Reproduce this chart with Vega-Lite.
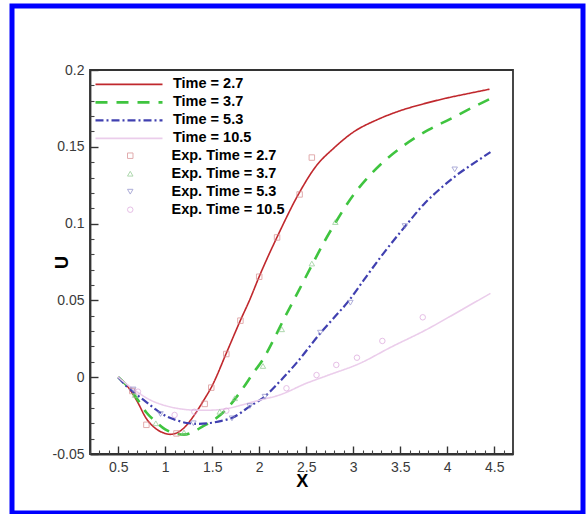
{
  "$schema": "https://vega.github.io/schema/vega-lite/v6.json",
  "autosize": {"type": "none"},
  "width": 571,
  "height": 507,
  "padding": {"left": 12, "top": 6, "right": 3, "bottom": 1},
  "background": "white",
  "title": {
    "text": "DG Method, Linear Elements",
    "font": "Liberation Serif",
    "fontSize": 26,
    "fontWeight": "bold",
    "color": "black",
    "frame": "group",
    "anchor": "middle",
    "baseline": "alphabetic",
    "offset": 2,
    "dx": 7
  },
  "config": {
    "view": {"stroke": "#0000ff", "strokeWidth": 5},
    "font": "Liberation Sans"
  },
  "resolve": {"axis": {"x": "independent", "y": "independent"}},
  "datasets": {
    "lines": [
      {"series": "Time = 2.7", "x": 0.5, "u": 0},
      {"series": "Time = 2.7", "x": 0.6, "u": -0.006},
      {"series": "Time = 2.7", "x": 0.7, "u": -0.0155},
      {"series": "Time = 2.7", "x": 0.8, "u": -0.027},
      {"series": "Time = 2.7", "x": 0.9, "u": -0.0335},
      {"series": "Time = 2.7", "x": 1.0, "u": -0.0366},
      {"series": "Time = 2.7", "x": 1.05, "u": -0.0372},
      {"series": "Time = 2.7", "x": 1.1, "u": -0.0368},
      {"series": "Time = 2.7", "x": 1.2, "u": -0.033},
      {"series": "Time = 2.7", "x": 1.3, "u": -0.0255},
      {"series": "Time = 2.7", "x": 1.4, "u": -0.016},
      {"series": "Time = 2.7", "x": 1.5, "u": -0.0055},
      {"series": "Time = 2.7", "x": 1.65, "u": 0.0156},
      {"series": "Time = 2.7", "x": 1.8, "u": 0.037},
      {"series": "Time = 2.7", "x": 1.9, "u": 0.0505},
      {"series": "Time = 2.7", "x": 2.0, "u": 0.0655},
      {"series": "Time = 2.7", "x": 2.2, "u": 0.0925},
      {"series": "Time = 2.7", "x": 2.43, "u": 0.1205},
      {"series": "Time = 2.7", "x": 2.6, "u": 0.137},
      {"series": "Time = 2.7", "x": 2.8, "u": 0.1495},
      {"series": "Time = 2.7", "x": 3.0, "u": 0.1595},
      {"series": "Time = 2.7", "x": 3.25, "u": 0.1675},
      {"series": "Time = 2.7", "x": 3.5, "u": 0.1735},
      {"series": "Time = 2.7", "x": 3.75, "u": 0.178},
      {"series": "Time = 2.7", "x": 4.0, "u": 0.1818},
      {"series": "Time = 2.7", "x": 4.25, "u": 0.185},
      {"series": "Time = 2.7", "x": 4.45, "u": 0.1875},
      {"series": "Time = 3.7", "x": 0.5, "u": 0},
      {"series": "Time = 3.7", "x": 0.6, "u": -0.006},
      {"series": "Time = 3.7", "x": 0.7, "u": -0.014},
      {"series": "Time = 3.7", "x": 0.8, "u": -0.023},
      {"series": "Time = 3.7", "x": 0.9, "u": -0.029},
      {"series": "Time = 3.7", "x": 1.0, "u": -0.034},
      {"series": "Time = 3.7", "x": 1.1, "u": -0.0365},
      {"series": "Time = 3.7", "x": 1.2, "u": -0.0374},
      {"series": "Time = 3.7", "x": 1.3, "u": -0.0355},
      {"series": "Time = 3.7", "x": 1.4, "u": -0.032},
      {"series": "Time = 3.7", "x": 1.5, "u": -0.0285},
      {"series": "Time = 3.7", "x": 1.65, "u": -0.021},
      {"series": "Time = 3.7", "x": 1.8, "u": -0.0095},
      {"series": "Time = 3.7", "x": 1.94, "u": 0.003},
      {"series": "Time = 3.7", "x": 2.04, "u": 0.0115},
      {"series": "Time = 3.7", "x": 2.15, "u": 0.024},
      {"series": "Time = 3.7", "x": 2.26, "u": 0.0375},
      {"series": "Time = 3.7", "x": 2.43, "u": 0.0575},
      {"series": "Time = 3.7", "x": 2.54, "u": 0.0705},
      {"series": "Time = 3.7", "x": 2.7, "u": 0.089},
      {"series": "Time = 3.7", "x": 2.82, "u": 0.1015},
      {"series": "Time = 3.7", "x": 3.0, "u": 0.1185},
      {"series": "Time = 3.7", "x": 3.14, "u": 0.129},
      {"series": "Time = 3.7", "x": 3.3, "u": 0.139},
      {"series": "Time = 3.7", "x": 3.53, "u": 0.1505},
      {"series": "Time = 3.7", "x": 3.8, "u": 0.161},
      {"series": "Time = 3.7", "x": 4.03, "u": 0.168},
      {"series": "Time = 3.7", "x": 4.25, "u": 0.175},
      {"series": "Time = 3.7", "x": 4.45, "u": 0.181},
      {"series": "Time = 5.3", "x": 0.5, "u": 0},
      {"series": "Time = 5.3", "x": 0.6, "u": -0.0065},
      {"series": "Time = 5.3", "x": 0.7, "u": -0.0115},
      {"series": "Time = 5.3", "x": 0.77, "u": -0.0148},
      {"series": "Time = 5.3", "x": 0.9, "u": -0.021},
      {"series": "Time = 5.3", "x": 1.02, "u": -0.0257},
      {"series": "Time = 5.3", "x": 1.12, "u": -0.028},
      {"series": "Time = 5.3", "x": 1.23, "u": -0.0298},
      {"series": "Time = 5.3", "x": 1.35, "u": -0.0304},
      {"series": "Time = 5.3", "x": 1.48, "u": -0.0298},
      {"series": "Time = 5.3", "x": 1.6, "u": -0.0284},
      {"series": "Time = 5.3", "x": 1.72, "u": -0.0262},
      {"series": "Time = 5.3", "x": 1.9, "u": -0.019},
      {"series": "Time = 5.3", "x": 2.06, "u": -0.0125},
      {"series": "Time = 5.3", "x": 2.2, "u": -0.004},
      {"series": "Time = 5.3", "x": 2.4, "u": 0.0095},
      {"series": "Time = 5.3", "x": 2.65, "u": 0.0286},
      {"series": "Time = 5.3", "x": 2.8, "u": 0.039},
      {"series": "Time = 5.3", "x": 2.95, "u": 0.0495},
      {"series": "Time = 5.3", "x": 3.11, "u": 0.063},
      {"series": "Time = 5.3", "x": 3.32, "u": 0.0805},
      {"series": "Time = 5.3", "x": 3.55, "u": 0.098},
      {"series": "Time = 5.3", "x": 3.75, "u": 0.1125},
      {"series": "Time = 5.3", "x": 3.95, "u": 0.124},
      {"series": "Time = 5.3", "x": 4.1, "u": 0.1315},
      {"series": "Time = 5.3", "x": 4.3, "u": 0.14},
      {"series": "Time = 5.3", "x": 4.46, "u": 0.1465},
      {"series": "Time = 10.5", "x": 0.5, "u": 0},
      {"series": "Time = 10.5", "x": 0.6, "u": -0.005},
      {"series": "Time = 10.5", "x": 0.7, "u": -0.0095},
      {"series": "Time = 10.5", "x": 0.84, "u": -0.0148},
      {"series": "Time = 10.5", "x": 1.0, "u": -0.0185},
      {"series": "Time = 10.5", "x": 1.15, "u": -0.0205},
      {"series": "Time = 10.5", "x": 1.3, "u": -0.0214},
      {"series": "Time = 10.5", "x": 1.45, "u": -0.0215},
      {"series": "Time = 10.5", "x": 1.65, "u": -0.0205},
      {"series": "Time = 10.5", "x": 1.85, "u": -0.0175},
      {"series": "Time = 10.5", "x": 2.0, "u": -0.015},
      {"series": "Time = 10.5", "x": 2.22, "u": -0.0115},
      {"series": "Time = 10.5", "x": 2.5, "u": -0.004},
      {"series": "Time = 10.5", "x": 2.72, "u": 0.001},
      {"series": "Time = 10.5", "x": 3.07, "u": 0.009},
      {"series": "Time = 10.5", "x": 3.4, "u": 0.0195},
      {"series": "Time = 10.5", "x": 3.78, "u": 0.031},
      {"series": "Time = 10.5", "x": 4.1, "u": 0.042},
      {"series": "Time = 10.5", "x": 4.46, "u": 0.0546}
    ],
    "exp": [
      {"series": "Exp. Time = 2.7", "x": 0.65, "u": -0.009},
      {"series": "Exp. Time = 2.7", "x": 0.8, "u": -0.031},
      {"series": "Exp. Time = 2.7", "x": 1.12, "u": -0.0366},
      {"series": "Exp. Time = 2.7", "x": 1.42, "u": -0.0174},
      {"series": "Exp. Time = 2.7", "x": 1.49, "u": -0.0068},
      {"series": "Exp. Time = 2.7", "x": 1.65, "u": 0.0151},
      {"series": "Exp. Time = 2.7", "x": 1.8, "u": 0.0368},
      {"series": "Exp. Time = 2.7", "x": 2.0, "u": 0.0654},
      {"series": "Exp. Time = 2.7", "x": 2.19, "u": 0.091},
      {"series": "Exp. Time = 2.7", "x": 2.43, "u": 0.119},
      {"series": "Exp. Time = 2.7", "x": 2.56, "u": 0.143},
      {"series": "Exp. Time = 3.7", "x": 0.68, "u": -0.0116},
      {"series": "Exp. Time = 3.7", "x": 0.9, "u": -0.03},
      {"series": "Exp. Time = 3.7", "x": 1.2, "u": -0.036},
      {"series": "Exp. Time = 3.7", "x": 1.58, "u": -0.0225},
      {"series": "Exp. Time = 3.7", "x": 1.74, "u": -0.0137},
      {"series": "Exp. Time = 3.7", "x": 2.04, "u": 0.0073},
      {"series": "Exp. Time = 3.7", "x": 2.24, "u": 0.0312},
      {"series": "Exp. Time = 3.7", "x": 2.56, "u": 0.074},
      {"series": "Exp. Time = 3.7", "x": 2.81, "u": 0.101},
      {"series": "Exp. Time = 5.3", "x": 0.66, "u": -0.008},
      {"series": "Exp. Time = 5.3", "x": 0.95, "u": -0.024},
      {"series": "Exp. Time = 5.3", "x": 1.3, "u": -0.03},
      {"series": "Exp. Time = 5.3", "x": 1.71, "u": -0.0268},
      {"series": "Exp. Time = 5.3", "x": 1.9, "u": -0.0188},
      {"series": "Exp. Time = 5.3", "x": 2.06, "u": -0.0127},
      {"series": "Exp. Time = 5.3", "x": 2.65, "u": 0.029},
      {"series": "Exp. Time = 5.3", "x": 2.97, "u": 0.0485},
      {"series": "Exp. Time = 5.3", "x": 3.55, "u": 0.0984},
      {"series": "Exp. Time = 5.3", "x": 4.08, "u": 0.1353},
      {"series": "Exp. Time = 10.5", "x": 0.71, "u": -0.0094},
      {"series": "Exp. Time = 10.5", "x": 1.1, "u": -0.0246},
      {"series": "Exp. Time = 10.5", "x": 1.31, "u": -0.0225},
      {"series": "Exp. Time = 10.5", "x": 1.65, "u": -0.0218},
      {"series": "Exp. Time = 10.5", "x": 2.29, "u": -0.0072},
      {"series": "Exp. Time = 10.5", "x": 2.61, "u": 0.0014},
      {"series": "Exp. Time = 10.5", "x": 2.82, "u": 0.008},
      {"series": "Exp. Time = 10.5", "x": 3.04, "u": 0.0127},
      {"series": "Exp. Time = 10.5", "x": 3.31, "u": 0.0236},
      {"series": "Exp. Time = 10.5", "x": 3.74, "u": 0.039}
    ],
    "frame": [{"x0": 0.2, "x1": 4.7, "y0": -0.05, "y1": 0.2}]
  },
  "layer": [
    {
      "data": {"name": "lines"},
      "mark": {"type": "line", "clip": false, "interpolate": "monotone"},
      "encoding": {
        "x": {
          "field": "x", "type": "quantitative",
          "scale": {"domain": [0.2, 4.7], "range": [78, 501], "nice": false, "zero": false},
          "axis": {
            "orient": "bottom",
            "offset": -59,
            "values": [0.5, 1, 1.5, 2, 2.5, 3, 3.5, 4, 4.5],
            "format": "~g",
            "ticks": false,
            "domainColor": "#333333", "domainWidth": 1.8,
            "grid": false,
            "labelPadding": 6,
            "labelFont": "Liberation Sans", "labelFontSize": 14, "labelColor": "#3a3a3a",
            "labelFlush": false, "labelOverlap": false, "labelBound": false,
            "title": "X",
            "titleFont": "Liberation Sans", "titleFontSize": 18, "titleFontWeight": "bold", "titleColor": "black",
            "titleX": 289.7, "titleY": 27, "titleBaseline": "middle", "titleAlign": "center"
          }
        },
        "y": {
          "field": "u", "type": "quantitative",
          "scale": {"domain": [-0.05, 0.2], "range": [448, 64], "nice": false, "zero": false},
          "axis": {
            "orient": "left",
            "offset": -78,
            "values": [-0.05, 0, 0.05, 0.1, 0.15, 0.2],
            "labelExpr": "(datum.value < 0 ? '-' : '') + format(abs(datum.value), '~g')",
            "ticks": false,
            "domainColor": "#333333", "domainWidth": 1.8,
            "grid": false,
            "labelPadding": 6,
            "labelFont": "Liberation Sans", "labelFontSize": 14, "labelColor": "#3a3a3a",
            "labelFlush": false, "labelOverlap": false, "labelBound": false,
            "title": "U",
            "titleFont": "Liberation Sans", "titleFontSize": 18, "titleFontWeight": "bold", "titleColor": "black",
            "titleX": -28, "titleY": 256, "titleBaseline": "middle", "titleAlign": "center", "titleAngle": -90
          }
        },
        "color": {
          "field": "series", "type": "nominal",
          "scale": {"domain": ["Time = 2.7", "Time = 3.7", "Time = 5.3", "Time = 10.5"], "range": ["#c0282d", "#3fc43f", "#4040b0", "#ebcdeb"]},
          "legend": {
            "orient": "none", "legendX": 82, "legendY": 69.5, "title": null,
            "symbolType": "stroke", "symbolSize": 4489, "symbolStrokeWidth": 2,
            "clipHeight": 17.7, "rowPadding": 0, "padding": 0, "labelOffset": 9,
            "labelFont": "Liberation Sans", "labelFontSize": 14.5, "labelFontWeight": "bold", "labelColor": "black", "labelLimit": 300
          }
        },
        "strokeDash": {
          "field": "series", "type": "nominal",
          "scale": {"domain": ["Time = 2.7", "Time = 3.7", "Time = 5.3", "Time = 10.5"], "range": [[1, 0], [12, 9], [8, 3, 2, 3], [1, 0]]},
          "legend": {
            "orient": "none", "legendX": 82, "legendY": 69.5, "title": null,
            "symbolType": "stroke", "symbolSize": 4489, "symbolStrokeWidth": 2,
            "clipHeight": 17.7, "rowPadding": 0, "padding": 0, "labelOffset": 9,
            "labelFont": "Liberation Sans", "labelFontSize": 14.5, "labelFontWeight": "bold", "labelColor": "black", "labelLimit": 300
          }
        },
        "strokeWidth": {
          "field": "series", "type": "nominal",
          "scale": {"type": "ordinal", "domain": ["Time = 2.7", "Time = 3.7", "Time = 5.3", "Time = 10.5"], "range": [1.6, 2.6, 2.2, 1.6]},
          "legend": null
        },
        "order": {"field": "x", "type": "quantitative"}
      }
    },
    {
      "data": {"name": "exp"},
      "mark": {"type": "point", "filled": false, "size": 30, "strokeWidth": 1, "clip": false},
      "encoding": {
        "x": {
          "field": "x", "type": "quantitative",
          "scale": {"domain": [0.2, 4.7], "range": [78, 501], "nice": false, "zero": false},
          "axis": {
            "orient": "top",
            "offset": -448,
            "values": [0.5, 1, 1.5, 2, 2.5, 3, 3.5, 4, 4.5],
            "ticks": true,
            "tickSize": 8,
            "tickColor": "#333333", "tickWidth": 1.4, "tickOpacity": 1,
            "zindex": 2,
            "domain": false, "grid": false, "labels": false, "title": null
          }
        },
        "y": {
          "field": "u", "type": "quantitative",
          "scale": {"domain": [-0.05, 0.2], "range": [448, 64], "nice": false, "zero": false},
          "axis": {
            "orient": "right",
            "offset": -493,
            "values": [-0.05, 0, 0.05, 0.1, 0.15, 0.2],
            "ticks": true,
            "tickSize": 8,
            "tickColor": "#333333", "tickWidth": 1.4, "tickOpacity": 1,
            "zindex": 2,
            "domain": false, "grid": false, "labels": false, "title": null
          }
        },
        "stroke": {
          "field": "series", "type": "nominal",
          "scale": {"domain": ["Exp. Time = 2.7", "Exp. Time = 3.7", "Exp. Time = 5.3", "Exp. Time = 10.5"], "range": ["#d68a8c", "#8cc88c", "#8a8ac8", "#dca4dc"]},
          "legend": {
            "orient": "none", "legendX": 82, "legendY": 141, "title": null,
            "symbolSize": 30, "symbolStrokeWidth": 1,
            "clipHeight": 17.4, "rowPadding": 0, "padding": 0, "symbolOffset": 29, "labelOffset": 34,
            "labelFont": "Liberation Sans", "labelFontSize": 14.5, "labelFontWeight": "bold", "labelColor": "black", "labelLimit": 300
          }
        },
        "shape": {
          "field": "series", "type": "nominal",
          "scale": {"domain": ["Exp. Time = 2.7", "Exp. Time = 3.7", "Exp. Time = 5.3", "Exp. Time = 10.5"], "range": ["square", "triangle-up", "triangle-down", "circle"]},
          "legend": {
            "orient": "none", "legendX": 82, "legendY": 141, "title": null,
            "symbolSize": 30, "symbolStrokeWidth": 1,
            "clipHeight": 17.4, "rowPadding": 0, "padding": 0, "symbolOffset": 29, "labelOffset": 34,
            "labelFont": "Liberation Sans", "labelFontSize": 14.5, "labelFontWeight": "bold", "labelColor": "black", "labelLimit": 300
          }
        }
      }
    },
    {
      "data": {"name": "frame"},
      "mark": {"type": "rect", "fillOpacity": 0, "stroke": "#333333", "strokeWidth": 1.8, "clip": false},
      "encoding": {
        "x": {
          "field": "x0", "type": "quantitative",
          "scale": {"domain": [0.2, 4.7], "range": [78, 501], "nice": false, "zero": false},
          "axis": {
            "orient": "top",
            "offset": -448,
            "values": [0.2,0.3,0.4,0.6,0.7,0.8,0.9,1.1,1.2,1.3,1.4,1.6,1.7,1.8,1.9,2.1,2.2,2.3,2.4,2.6,2.7,2.8,2.9,3.1,3.2,3.3,3.4,3.6,3.7,3.8,3.9,4.1,4.2,4.3,4.4,4.6,4.7],
            "ticks": true,
            "tickSize": 4,
            "tickColor": "#444444", "tickWidth": 1.1, "tickOpacity": 1,
            "zindex": 2,
            "domain": false, "grid": false, "labels": false, "title": null
          }
        },
        "x2": {"field": "x1"},
        "y": {
          "field": "y0", "type": "quantitative",
          "scale": {"domain": [-0.05, 0.2], "range": [448, 64], "nice": false, "zero": false},
          "axis": {
            "orient": "right",
            "offset": -493,
            "values": [-0.04,-0.03,-0.02,-0.01,0.01,0.02,0.03,0.04,0.06,0.07,0.08,0.09,0.11,0.12,0.13,0.14,0.16,0.17,0.18,0.19],
            "ticks": true,
            "tickSize": 4,
            "tickColor": "#444444", "tickWidth": 1.1, "tickOpacity": 1,
            "zindex": 2,
            "domain": false, "grid": false, "labels": false, "title": null
          }
        },
        "y2": {"field": "y1"}
      }
    }
  ]
}
